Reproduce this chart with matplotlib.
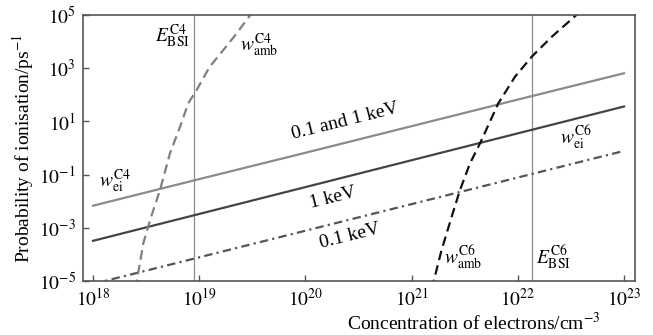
import matplotlib

matplotlib.use("Agg")
import matplotlib.pyplot as plt

plt.rcParams["font.family"] = ["Liberation Serif", "DejaVu Serif"]
plt.rcParams["mathtext.fontset"] = "stix"

# log10 of electron concentration (cm^-3) and of ionisation probability (ps^-1)
wei_c4_n = [18, 19, 20, 21, 22, 23]
wei_c4_w = [-2.17, -1.17, -0.18, 0.82, 1.82, 2.81]      # 0.1 and 1 keV
wei_c6_1kev_n = [18, 19, 20, 21, 22, 23]
wei_c6_1kev_w = [-3.49, -2.48, -1.47, -0.46, 0.55, 1.56]
wei_c6_01kev_n = [18, 19, 20, 21, 22, 23]
wei_c6_01kev_w = [-5.11, -4.11, -3.11, -2.11, -1.11, -0.11]

amb_c4_n = [18.40, 18.474, 18.543, 18.631, 18.725, 18.82, 18.897, 18.976,
            19.10, 19.227, 19.353, 19.50]
amb_c4_w = [-5.3, -3.58, -2.64, -1.58, -0.20, 0.80, 1.68, 2.18,
            3.06, 3.68, 4.31, 5.1]
amb_c6_n = [21.19, 21.283, 21.378, 21.456, 21.55, 21.644, 21.817, 21.974,
            22.131, 22.32, 22.58]
amb_c6_w = [-5.3, -3.83, -2.58, -1.58, -0.58, 0.17, 1.68, 2.68,
            3.43, 4.18, 5.1]

ebsi_c4 = 18.95
ebsi_c6 = 22.13

x_ticks = [18, 19, 20, 21, 22, 23]
y_ticks = [-5, -3, -1, 1, 3, 5]

FS = 14


def p(v):
    return [10.0 ** x for x in v]


fig = plt.figure(figsize=(6.53, 3.35), dpi=100)
ax = fig.add_axes([83 / 653, 1 - 281 / 335, 552 / 653, 266 / 335])
ax.set_xscale("log")
ax.set_yscale("log")

ax.axvline(10 ** ebsi_c4, color="#8c8c8c", lw=0.9)
ax.axvline(10 ** ebsi_c6, color="#8c8c8c", lw=0.9)

ax.plot(p(wei_c4_n), p(wei_c4_w), color="#8a8a8a", lw=1.6)
ax.plot(p(wei_c6_1kev_n), p(wei_c6_1kev_w), color="#444444", lw=1.6)
ax.plot(p(wei_c6_01kev_n), p(wei_c6_01kev_w), color="#555555", lw=1.6,
        dashes=(3.8, 1.9, 1.0, 1.9))
ax.plot(p(amb_c4_n), p(amb_c4_w), color="#808080", lw=1.6, dashes=(4.3, 2.4))
ax.plot(p(amb_c6_n), p(amb_c6_w), color="#111111", lw=1.6, dashes=(4.3, 2.4))

ax.set_xlim(10 ** 17.906, 10 ** 23.104)
ax.set_ylim(1e-5, 1e5)
ax.set_xticks(p(x_ticks))
ax.set_xticklabels([f"$10^{{{t}}}$" for t in x_ticks])
ax.set_yticks(p(y_ticks))
ax.set_yticklabels([f"$10^{{{t}}}$" for t in y_ticks])
ax.minorticks_off()
ax.tick_params(direction="in", length=4, width=1.0, color="#555555",
               labelsize=FS, pad=5)
for s in ax.spines.values():
    s.set_color("#555555")
    s.set_linewidth(1.2)

# annotations
ax.text(10 ** 18.91, 10 ** 4.2, r"$E_{\mathrm{BSI}}^{\mathrm{C4}}$", ha="right",
        va="center", fontsize=FS)
ax.text(10 ** 19.38, 10 ** 3.85, r"$w_{\mathrm{amb}}^{\mathrm{C4}}$", ha="left",
        va="center", fontsize=FS)
ax.text(10 ** 18.06, 10 ** -1.25, r"$w_{\mathrm{ei}}^{\mathrm{C4}}$", ha="left",
        va="center", fontsize=FS)
ax.text(10 ** 21.31, 10 ** -4.1, r"$w_{\mathrm{amb}}^{\mathrm{C6}}$", ha="left",
        va="center", fontsize=FS)
ax.text(10 ** 22.17, 10 ** -4.1, r"$E_{\mathrm{BSI}}^{\mathrm{C6}}$", ha="left",
        va="center", fontsize=FS)
ax.text(10 ** 22.40, 10 ** 0.42, r"$w_{\mathrm{ei}}^{\mathrm{C6}}$", ha="left",
        va="center", fontsize=FS)
ax.text(10 ** 20.37, 10 ** 1.0, "0.1 and 1 keV", rotation=14, ha="center",
        va="center", fontsize=FS, rotation_mode="anchor")
ax.text(10 ** 20.26, 10 ** -1.86, "1 keV", rotation=14, ha="center",
        va="center", fontsize=FS, rotation_mode="anchor")
ax.text(10 ** 20.42, 10 ** -3.3, "0.1 keV", rotation=14, ha="center",
        va="center", fontsize=FS, rotation_mode="anchor")

ax.set_xlabel(r"Concentration of electrons/cm$^{-3}$", fontsize=FS)
ax.xaxis.set_label_coords(0.937, -0.115)
ax.xaxis.label.set_ha("right")
ax.set_ylabel(r"Probability of ionisation/ps$^{-1}$", fontsize=FS)
ax.yaxis.set_label_coords(-0.085, 0.5)

fig.savefig("out.png", dpi=100)
